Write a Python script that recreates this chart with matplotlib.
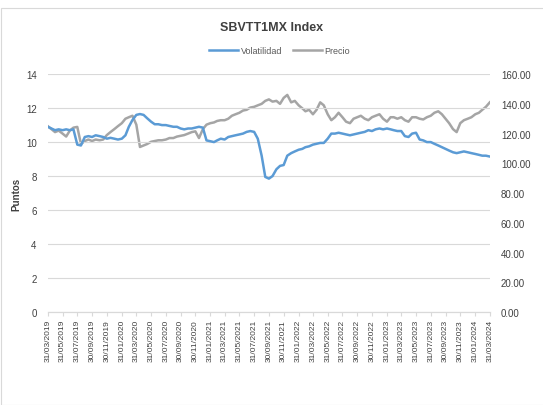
import numpy as np
import pandas as pd
import matplotlib
matplotlib.use('Agg')
import matplotlib.pyplot as plt
from matplotlib.patches import Rectangle

plt.rcParams['font.family'] = ['Liberation Sans Narrow', 'Liberation Sans', 'DejaVu Sans']

# fechas quincenales, 31/03/2019 a 31/03/2024
fechas = pd.date_range('2019-03-31', periods=121, freq='SME')

volatilidad = [
    10.9, 10.8, 10.7, 10.75, 10.7, 10.75, 10.7, 10.75, 9.85, 9.8,
    10.3, 10.35, 10.3, 10.4, 10.35, 10.3, 10.2, 10.25, 10.2, 10.15,
    10.2, 10.4, 10.9, 11.3, 11.6, 11.65, 11.6, 11.4, 11.2, 11.05,
    11.05, 11.0, 11.0, 10.95, 10.9, 10.9, 10.8, 10.75, 10.8, 10.8,
    10.85, 10.9, 10.85, 10.1, 10.05, 10.0, 10.1, 10.2, 10.15, 10.3,
    10.35, 10.4, 10.45, 10.5, 10.6, 10.65, 10.6, 10.2, 9.2, 7.95,
    7.85, 8.0, 8.4, 8.6, 8.65, 9.2, 9.35, 9.45, 9.55, 9.6,
    9.7, 9.75, 9.85, 9.9, 9.95, 9.95, 10.2, 10.5, 10.5, 10.55,
    10.5, 10.45, 10.4, 10.45, 10.5, 10.55, 10.6, 10.7, 10.65, 10.75,
    10.8, 10.75, 10.8, 10.75, 10.7, 10.65, 10.65, 10.35, 10.3, 10.5,
    10.55, 10.15, 10.1, 10.0, 10.0, 9.9, 9.8, 9.7, 9.6, 9.5,
    9.4, 9.35, 9.4, 9.45, 9.4, 9.35, 9.3, 9.25, 9.2, 9.2,
    9.15,
]

precio = [
    125, 123, 121, 122, 120, 118, 122, 124, 124.5, 113,
    115, 116, 115, 116, 115.5, 116, 119, 121, 123, 125,
    127, 130, 131, 132, 126, 111, 112, 113, 114.5, 115,
    115.5, 115.5, 116, 117, 117, 118, 118.5, 119, 120, 121,
    121.5, 117, 123, 126, 127, 127.5, 128.5, 129, 129, 130,
    132, 133, 134, 135.5, 136, 137.5, 138, 139, 140, 142,
    143, 141.5, 142, 140, 144, 146, 141, 142, 139, 137,
    135, 136, 133, 136, 141, 139, 133, 129, 131, 134,
    131, 128, 127, 130, 131, 132, 130, 129, 131, 132,
    133, 130, 128, 131, 131, 130, 131, 129, 128, 131,
    131, 130, 129.5, 131, 132, 134, 135, 133, 130, 127,
    123, 121, 127, 129, 130, 131, 133, 134, 136, 138,
    141,
]

etiquetas = pd.date_range('2019-03-31', '2024-03-31', freq='2ME')

azul = '#5B9BD5'
gris = '#A5A5A5'

fig = plt.figure(figsize=(5.43, 4.06), dpi=100)
fig.patches.append(Rectangle((0.002, 0.0), 1.2, 0.978, transform=fig.transFigure,
                             fill=False, edgecolor='#D9D9D9', linewidth=0.8))

ax = fig.add_axes([0.088, 0.229, 0.814, 0.586])
ax2 = ax.twinx()

l1, = ax.plot(fechas, volatilidad, color=azul, linewidth=1.8, label='Volatilidad')
l2, = ax2.plot(fechas, precio, color=gris, linewidth=1.8, label='Precio')
ax.set_zorder(ax2.get_zorder() + 1)
ax.patch.set_visible(False)

ax.set_ylim(0, 14)
ax.set_yticks(np.arange(0, 15, 2))
ax2.set_ylim(0, 160)
ax2.set_yticks(np.arange(0, 161, 20))
ax2.set_yticklabels([f'{v:.2f}' for v in np.arange(0, 161, 20)])

ax.set_xlim(fechas[0], fechas[-1])
ax.set_xticks(etiquetas)
ax.set_xticklabels([d.strftime('%d/%m/%Y') for d in etiquetas], rotation=90, fontsize=6)

ax.grid(axis='y', color='#D9D9D9', linewidth=0.8)
ax.set_axisbelow(True)
for a in (ax, ax2):
    for s in ('top', 'left', 'right'):
        a.spines[s].set_visible(False)
    a.spines['bottom'].set_color('#D9D9D9')
ax.tick_params(axis='y', length=0, labelsize=7, pad=8, colors='#404040')
ax2.tick_params(axis='y', length=0, labelsize=7, pad=8, colors='#404040')
ax.tick_params(axis='x', length=3, color='#D9D9D9', colors='#404040', pad=2)

ax.set_ylabel('Puntos', fontsize=7, fontweight='bold', color='#404040', labelpad=3)

fig.text(0.5, 0.931, 'SBVTT1MX Index', ha='center', va='center', fontsize=9,
         fontweight='bold', color='#404040')
fig.legend(handles=[l1, l2], loc='center', bbox_to_anchor=(0.515, 0.872), ncol=2,
           frameon=False, fontsize=6.5, handlelength=3.2, columnspacing=1.2,
           handletextpad=0.3, labelcolor='#595959')

fig.savefig('out.png', dpi=100)
